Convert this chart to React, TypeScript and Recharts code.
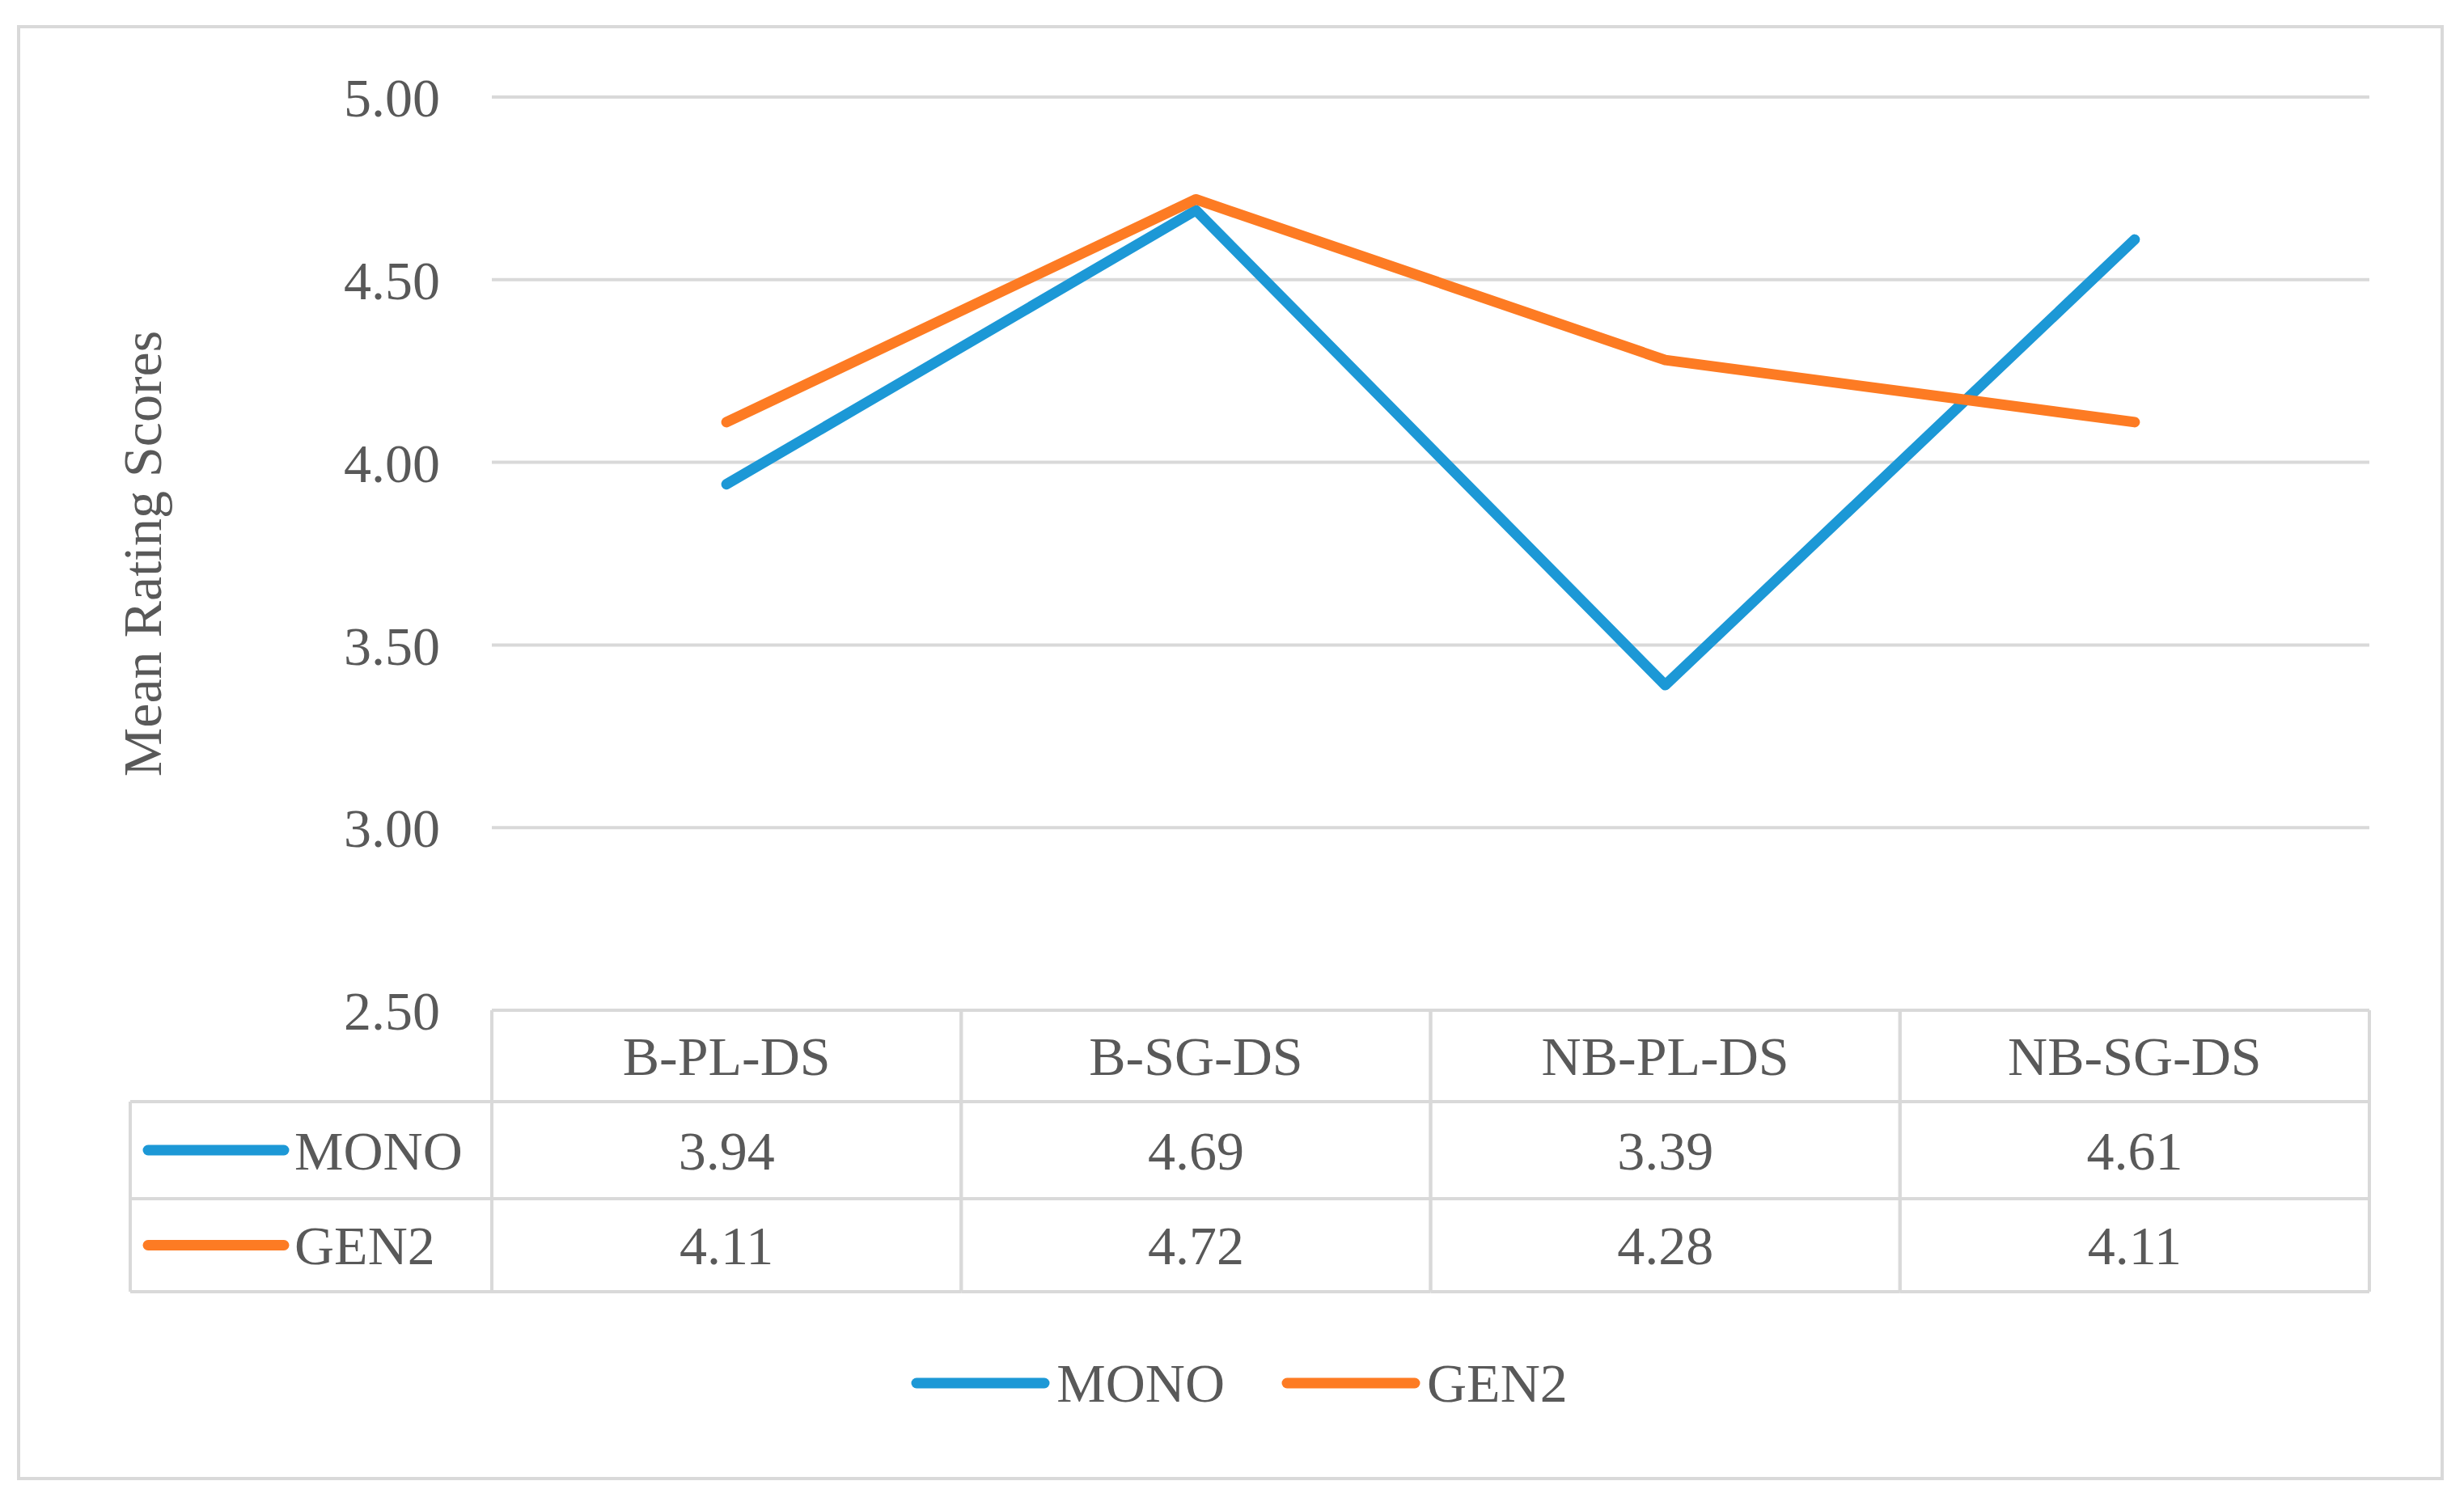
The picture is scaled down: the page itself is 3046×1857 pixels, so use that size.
import { LineChart, Line, XAxis, YAxis, CartesianGrid, Legend } from 'recharts'

const CATEGORIES = ['B-PL-DS', 'B-SG-DS', 'NB-PL-DS', 'NB-SG-DS']
const MONO = [3.94, 4.69, 3.39, 4.61]
const GEN2 = [4.11, 4.72, 4.28, 4.11]
const Y_TICKS = [2.5, 3, 3.5, 4, 4.5, 5]

const SERIES = [
  { key: 'MONO', values: MONO, color: '#1c98d6' },
  { key: 'GEN2', values: GEN2, color: '#fd7b23' },
]

const W = 2992
const H = 1791
const MARGIN = { top: 85, right: 88, bottom: 66, left: 0 }
const Y_AXIS_W = 583
const PLOT_W = W - MARGIN.left - MARGIN.right - Y_AXIS_W
const BAND = PLOT_W / CATEGORIES.length
// table row boundaries below the plot (header, MONO, GEN2)
const ROWS = [0, 113, 233, 348]
const ROW_HEAD_W = 447
const LW = 13

const GRID = '#d9d9d9'
const TEXT = '#595959'
const FONT = '"Liberation Serif", serif'
const FS = 68

const data = CATEGORIES.map((name, i) => ({ name, MONO: MONO[i], GEN2: GEN2[i] }))

function TableTick(props: any) {
  const { x, y, payload } = props
  const i = props.index ?? payload.index ?? 0
  const left = x - BAND / 2
  const right = x + BAND / 2
  const mid = (a: number, b: number) => y + (ROWS[a] + ROWS[b]) / 2
  const txt = { fill: TEXT, fontSize: FS, fontFamily: FONT, dy: '0.35em' }
  return (
    <g>
      {ROWS.map(r => (
        <line key={r} x1={left} x2={right} y1={y + r} y2={y + r} stroke={GRID} strokeWidth={4} />
      ))}
      <line x1={left} x2={left} y1={y} y2={y + ROWS[3]} stroke={GRID} strokeWidth={4} />
      <line x1={right} x2={right} y1={y} y2={y + ROWS[3]} stroke={GRID} strokeWidth={4} />
      <text x={x} y={mid(0, 1)} textAnchor="middle" {...txt}>{payload.value}</text>
      {SERIES.map((s, k) => (
        <text key={s.key} x={x} y={mid(k + 1, k + 2)} textAnchor="middle" {...txt}>
          {s.values[i].toFixed(2)}
        </text>
      ))}
      {i === 0 && (
        <g>
          {ROWS.slice(1).map(r => (
            <line key={r} x1={left - ROW_HEAD_W} x2={left} y1={y + r} y2={y + r} stroke={GRID} strokeWidth={4} />
          ))}
          <line x1={left - ROW_HEAD_W} x2={left - ROW_HEAD_W} y1={y + ROWS[1]} y2={y + ROWS[3]} stroke={GRID} strokeWidth={4} />
          {SERIES.map((s, k) => (
            <g key={s.key}>
              <line
                x1={left - ROW_HEAD_W + 22} x2={left - ROW_HEAD_W + 190}
                y1={mid(k + 1, k + 2)} y2={mid(k + 1, k + 2)}
                stroke={s.color} strokeWidth={LW} strokeLinecap="round"
              />
              <text x={left - ROW_HEAD_W + 203} y={mid(k + 1, k + 2)} textAnchor="start" {...txt}>{s.key}</text>
            </g>
          ))}
        </g>
      )}
    </g>
  )
}

function LegendContent() {
  return (
    <div style={{ display: 'flex', justifyContent: 'center', alignItems: 'center', height: 100, paddingLeft: 110, fontFamily: FONT, fontSize: FS, color: TEXT }}>
      {SERIES.map((s, k) => (
        <div key={s.key} style={{ display: 'flex', alignItems: 'center', marginLeft: k ? 70 : 0 }}>
          <svg width={172} height={20}>
            <line x1={7} x2={165} y1={10} y2={10} stroke={s.color} strokeWidth={LW} strokeLinecap="round" />
          </svg>
          <span style={{ marginLeft: 8, lineHeight: 1 }}>{s.key}</span>
        </div>
      ))}
    </div>
  )
}

export default function App() {
  return (
    <div style={{ position: 'absolute', left: 21, top: 31, width: 3000, height: 1799, border: `4px solid ${GRID}`, boxSizing: 'border-box', background: '#fff' }}>
      <LineChart width={W} height={H} data={data} margin={MARGIN}>
        <CartesianGrid vertical={false} stroke={GRID} strokeWidth={4} />
        <XAxis
          dataKey="name"
          axisLine={false}
          tickLine={false}
          tickSize={0}
          tickMargin={0}
          interval={0}
          height={411}
          padding={{ left: BAND / 2, right: BAND / 2 }}
          tick={<TableTick />}
        />
        <YAxis
          domain={[2.5, 5]}
          ticks={Y_TICKS}
          tickFormatter={(v: number) => v.toFixed(2)}
          axisLine={false}
          tickLine={false}
          tickSize={0}
          tickMargin={64}
          width={Y_AXIS_W}
          tick={{ fill: TEXT, fontSize: FS, fontFamily: FONT }}
          label={{
            value: 'Mean Rating Scores',
            content: (p: any) => {
              const vb = p.viewBox
              const cx = vb.x + 150
              const cy = vb.y + vb.height / 2
              return (
                <text x={cx} y={cy} transform={`rotate(-90 ${cx} ${cy})`} textAnchor="middle" dy="0.35em" fill={TEXT} fontSize={FS} fontFamily={FONT}>
                  Mean Rating Scores
                </text>
              )
            },
          }}
        />
        {SERIES.map(s => (
          <Line
            key={s.key}
            type="linear"
            dataKey={s.key}
            stroke={s.color}
            strokeWidth={LW}
            strokeLinecap="round"
            strokeLinejoin="round"
            dot={false}
            activeDot={false}
            isAnimationActive={false}
          />
        ))}
        <Legend verticalAlign="bottom" height={100} content={<LegendContent />} />
      </LineChart>
    </div>
  )
}
